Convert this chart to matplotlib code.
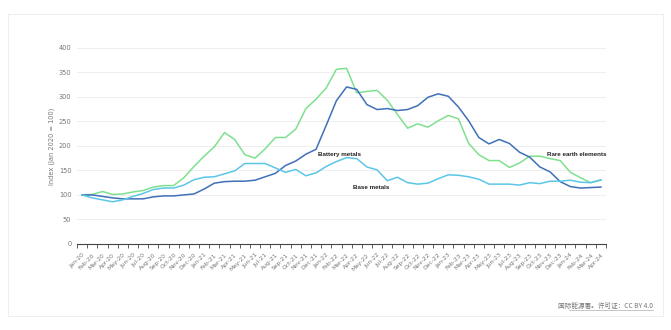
import numpy as np
import matplotlib
matplotlib.use("Agg")
import matplotlib.pyplot as plt
from matplotlib.patches import Rectangle

plt.rcParams['font.family'] = ['DejaVu Sans', 'Noto Sans CJK SC']

# ---------- Data ----------
months = ["Jan", "Feb", "Mar", "Apr", "May", "Jun", "Jul", "Aug", "Sep", "Oct", "Nov", "Dec"]
labels = [f"{m}-{y}" for y in ["20", "21", "22", "23"] for m in months] + ["Jan-24", "Feb-24", "Mar-24", "Apr-24"]

rare_earth = [100, 101, 107, 101, 102, 106, 109, 116, 119, 119, 135, 158,
              179, 198, 227, 213, 182, 175, 194, 217, 217, 234, 276, 295,
              318, 356, 358, 308, 311, 313, 293, 264, 236, 245, 238, 251,
              262, 255, 205, 182, 170, 170, 156, 165, 179, 179, 174, 170,
              146, 135, 125, 130]

battery = [100, 100, 97, 94, 92, 92, 92, 96, 98, 98, 100, 102,
           112, 124, 127, 128, 128, 130, 137, 144, 160, 169, 183, 193,
           242, 292, 320, 315, 284, 274, 276, 272, 274, 282, 299, 306,
           301, 279, 251, 217, 204, 213, 205, 187, 177, 157, 147, 127,
           117, 114, 115, 116]

base = [100, 94, 90, 86, 90, 97, 103, 111, 114, 114, 120, 131,
        136, 137, 143, 149, 164, 164, 164, 155, 146, 152, 139, 145,
        158, 168, 176, 174, 157, 151, 129, 136, 125, 122, 124, 133,
        141, 140, 137, 132, 122, 122, 122, 120, 125, 123, 128, 128,
        130, 126, 125, 131]

yticks = [0, 50, 100, 150, 200, 250, 300, 350, 400]

# ---------- Figure ----------
W, H = 671, 330
fig = plt.figure(figsize=(W / 100, H / 100), dpi=100)

# card border
fig.patches.append(Rectangle((8 / W, 1 - 316 / H), 655 / W, 302 / H,
                             transform=fig.transFigure, fill=False,
                             edgecolor="#eeeeee", linewidth=0.8))

ax = fig.add_axes([77 / W, 1 - 244 / H, 529 / W, (244 - 47.7) / H])

x = np.arange(len(labels))
ax.plot(x, rare_earth, color="#7fe08f", linewidth=1.1)
ax.plot(x, battery, color="#3f70b8", linewidth=1.1)
ax.plot(x, base, color="#5cc6e8", linewidth=1.1)

ax.set_xlim(-0.5, len(labels) - 0.5)
ax.set_ylim(0, 400)

ax.set_yticks(yticks)
ax.set_yticklabels([str(v) for v in yticks], fontsize=4.8, color="#777777")
ax.tick_params(axis="y", length=0, pad=4)
ax.grid(axis="y", color="#eeeeee", linewidth=0.7)
ax.set_axisbelow(True)

ax.set_xticks(x)
ax.set_xticklabels(labels, rotation=45, ha="right", rotation_mode="anchor",
                   fontsize=4.3, color="#777777")
ax.set_xticks(np.arange(len(labels) + 1) - 0.5, minor=True)
ax.tick_params(axis="x", which="major", length=0, pad=6)
ax.tick_params(axis="x", which="minor", length=3, width=0.6, color="#444444")

for s in ["top", "right", "left"]:
    ax.spines[s].set_visible(False)
ax.spines["bottom"].set_color("#444444")
ax.spines["bottom"].set_linewidth(0.8)

ax.set_ylabel("Index (Jan 2020 = 100)", fontsize=4.8, color="#777777", labelpad=3)

# series labels
lab_kw = dict(fontsize=4.5, fontweight="bold", color="#222222", va="center",
              family="Liberation Sans")
ax.text(23.2, 183, "Battery metals", **lab_kw)
ax.text(26.6, 116, "Base metals", **lab_kw)
ax.text(45.7, 183, "Rare earth elements", **lab_kw)

fig.text(653 / W, 1 - 306 / H, "国际能源署。许可证：CC BY 4.0", fontsize=4.8,
         color="#777777", ha="right", va="center",
         family=["Noto Sans CJK SC", "DejaVu Sans"])
fig.add_artist(plt.Line2D([569 / W, 653 / W], [1 - 309.5 / H, 1 - 309.5 / H],
                          color="#999999", linewidth=0.4))

fig.savefig("out.png", dpi=100, facecolor="white")
